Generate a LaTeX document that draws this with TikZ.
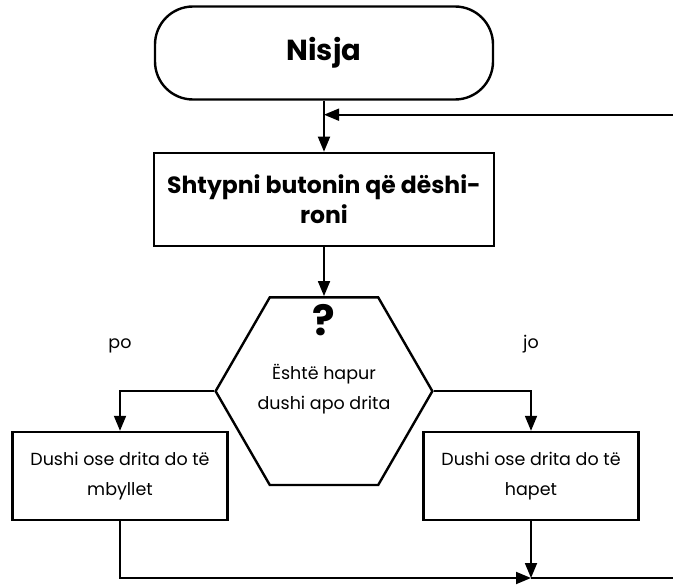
\documentclass[tikz,border=0pt]{standalone}
\usepackage{fontspec}
\setmainfont{Poppins}
\usetikzlibrary{arrows.meta, positioning, shapes.geometric}

\begin{document}
\begin{tikzpicture}[
    x=1pt, y=1pt,
    >={Triangle[length=15pt,width=12pt]},
    line width=1.8pt,
    terminal/.style={
        draw, line width=2.4pt,
        rounded corners=38pt,
        minimum width=338pt, minimum height=93pt,
        font=\fontsize{29}{32}\selectfont\bfseries
    },
    process/.style={
        draw, line width=2.4pt,
        minimum width=340pt, minimum height=93pt,
        align=center,
        font=\fontsize{23.5}{30}\selectfont\bfseries
    },
    decision/.style={
        draw, line width=2.4pt,
        regular polygon, regular polygon sides=6,
        minimum size=214pt, inner sep=0pt,
        align=center,
        font=\fontsize{17.5}{30}\selectfont
    },
    action/.style={
        draw, line width=2.4pt,
        minimum width=215pt, minimum height=88pt,
        align=center,
        font=\fontsize{17.5}{30}\selectfont
    },
    lbl/.style={font=\fontsize{17.5}{20}\selectfont}
]
\useasboundingbox (0,0) rectangle (673,-586);

% ---------------- NODES ----------------
\node[terminal] (start) at (324,-53)            {Nisja};
\node[process]  (press) [below=51pt of start]   {Shtypni butonin që dëshi-\\roni};
\node[decision] (check) [below=49pt of press]   {\\[-18pt]Është hapur\\dushi apo drita};
\node[font=\fontsize{42}{42}\selectfont\bfseries] (qmark) [below=4pt of check.north] {?};
\node[action]   (shut)  at (120,-476)           {Dushi ose drita do të\\mbyllet};
\node[action]   (open)  at (531,-476)           {Dushi ose drita do të\\hapet};

\coordinate (merge) at (531,-578);
\coordinate (back)  at ([yshift=-14pt]start.south);

% Main flow:
\draw[->] (start) -- (press);
\draw[->] (press) -- (check);

% Branches:
\draw[->] (check.west) -| node[lbl, above=34pt] {po} (shut.north);
\draw[->] (check.east) -| node[lbl, above=34pt] {jo} (open.north);

% Back to the start:
\draw[->] (shut.south) |- (merge);
\draw[->] (open.south) -- (merge);
\draw[->] (merge) -- ++(160,0) |- (back);

\end{tikzpicture}
\end{document}
